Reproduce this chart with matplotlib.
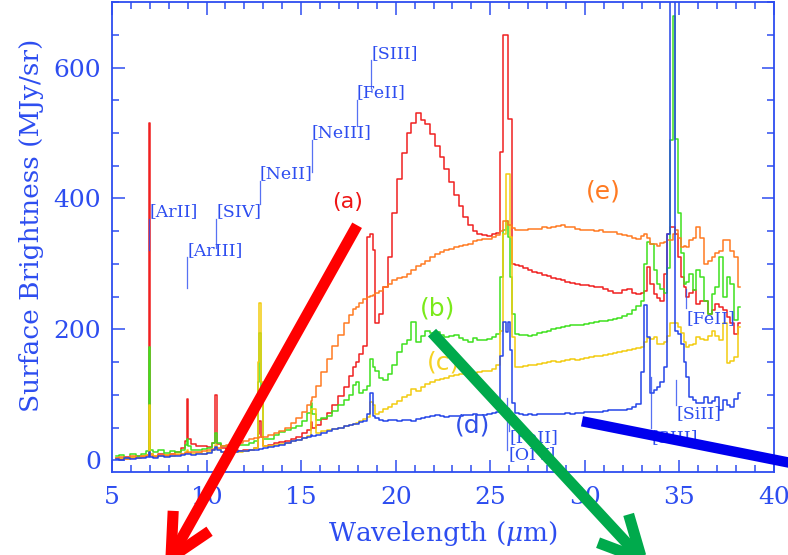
import numpy as np
from matplotlib import pyplot as plt
from matplotlib.patches import FancyArrowPatch
from matplotlib.ticker import MultipleLocator

plt.rcParams['font.family'] = 'DejaVu Serif'
plt.rcParams['mathtext.fontset'] = 'dejavuserif'

# wavelength grid (micron)
wavelength = [
    5.2, 5.5, 5.8, 6.1, 6.4, 6.7, 6.92, 6.98, 7.04, 7.3,
    7.6, 7.9, 8.2, 8.5, 8.75, 8.93, 8.99, 9.05, 9.3, 9.6,
    9.9, 10.2, 10.42, 10.51, 10.6, 10.9, 11.2, 11.5, 11.8, 12.1,
    12.4, 12.65, 12.75, 12.83, 12.91, 13.1, 13.4, 13.7, 14.0,
    14.3, 14.6, 14.9, 15.2, 15.45, 15.55, 15.65, 15.9, 16.2, 16.5,
    16.8, 17.1, 17.4, 17.65, 17.85, 17.95, 18.15, 18.4, 18.55, 18.7,
    18.85, 19.0, 19.2, 19.45, 19.7, 19.95, 20.2, 20.45, 20.7, 20.95,
    21.2, 21.45, 21.7, 21.95, 22.2, 22.45, 22.7, 22.95, 23.2, 23.45,
    23.7, 23.95, 24.2, 24.45, 24.7, 24.95, 25.2, 25.45, 25.62, 25.76,
    25.88, 25.98, 26.1, 26.25, 26.4, 26.6, 26.85, 27.1, 27.35, 27.6,
    27.85, 28.1, 28.35, 28.6, 28.85, 29.1, 29.35, 29.6, 29.85, 30.1,
    30.35, 30.6, 30.85, 31.1, 31.35, 31.6, 31.85, 32.1, 32.35, 32.6,
    32.85, 33.05, 33.22, 33.38, 33.55, 33.72, 33.9, 34.08, 34.25, 34.42,
    34.58, 34.72, 34.86, 35.0, 35.15, 35.3, 35.45, 35.6, 35.8, 36.0,
    36.2, 36.4, 36.6, 36.8, 37.0, 37.2, 37.4, 37.6, 37.8, 38.0,
    38.2]

# (a) red
spec_a = [
    4, 2, 5, 3, 6, 5, 8, 515, 10, 7,
    9, 8, 10, 13, 18, 30, 94, 32, 25, 22,
    21, 20, 26, 99, 25, 19, 17, 15, 14, 15,
    16, 18, 40, 60, 35, 22, 24, 26, 28,
    30, 33, 36, 41, 46, 58, 50, 54, 63, 72,
    84, 98, 112, 128, 142, 150, 162, 175, 341, 346,
    321, 209, 224, 265, 310, 377, 430, 470, 500, 515,
    531, 520, 514, 498, 480, 464, 445, 425, 405, 388,
    372, 360, 350, 346, 344, 343, 345, 347, 471, 649,
    649, 521, 521, 300, 298, 296, 294, 291, 288, 286,
    283, 281, 279, 277, 275, 273, 271, 269, 268, 267,
    266, 265, 264, 262, 258, 255, 255, 260, 262, 256,
    254, 256, 258, 295, 270, 254, 248, 244, 285, 346,
    356, 356, 346, 310, 280, 265, 249, 255, 260, 239,
    244, 244, 224, 230, 239, 234, 229, 219, 210, 193,
    209]

# (b) green
spec_b = [
    6, 8, 4, 9, 7, 10, 14, 173, 16, 12,
    15, 11, 14, 12, 16, 24, 32, 22, 16, 15,
    17, 19, 26, 42, 26, 22, 21, 22, 23, 24,
    26, 30, 120, 194, 90, 32, 33, 38, 43,
    46, 49, 53, 60, 72, 87, 70, 62, 64, 68,
    75, 84, 92, 100, 115, 120, 103, 108, 113, 155,
    142, 136, 125, 122, 132, 145, 165, 178, 184, 211,
    180, 190, 198, 194, 196, 192, 188, 190, 191, 186,
    183, 181, 186, 184, 183, 185, 188, 193, 280, 351,
    366, 341, 280, 224, 193, 192, 191, 190, 192, 194,
    196, 198, 200, 202, 204, 205, 206, 206, 207, 208,
    209, 211, 212, 213, 214, 216, 218, 220, 224, 230,
    236, 244, 300, 333, 331, 290, 270, 262, 255, 293,
    489, 679, 491, 377, 316, 270, 272, 285, 260, 290,
    280, 244, 224, 254, 265, 310, 249, 280, 270, 214,
    234]

# (c) yellow
spec_c = [
    3, 4, 2, 5, 3, 6, 8, 84, 9, 6,
    7, 8, 7, 9, 10, 12, 15, 12, 10, 11,
    10, 12, 16, 24, 17, 13, 12, 13, 13, 14,
    16, 19, 150, 240, 120, 22, 22, 23, 25,
    27, 29, 31, 34, 37, 79, 79, 42, 44, 46,
    48, 50, 52, 54, 55, 57, 60, 63, 66, 89,
    85, 71, 74, 78, 82, 86, 91, 96, 100, 109,
    106, 112, 116, 119, 122, 124, 126, 128, 130, 131,
    132, 133, 134, 135, 136, 137, 140, 145, 198, 346,
    438, 438, 341, 188, 143, 142, 144, 145, 146, 147,
    149, 150, 151, 150, 152, 153, 154, 153, 155, 156,
    158, 159, 160, 161, 162, 164, 165, 167, 168, 170,
    172, 173, 180, 186, 185, 188, 178, 178, 180, 190,
    209, 210, 209, 204, 195, 180, 173, 176, 178, 188,
    185, 183, 190, 198, 190, 183, 209, 148, 152, 158,
    204]

# (d) blue
spec_d = [
    2, 1, 3, 2, 4, 3, 5, 12, 5, 4,
    6, 5, 7, 6, 8, 9, 10, 9, 8, 9,
    10, 11, 15, 20, 15, 12, 12, 13, 14, 14,
    15, 16, 16, 17, 17, 18, 20, 21, 23,
    26, 29, 31, 34, 36, 38, 37, 39, 42, 45,
    47, 49, 52, 54, 55, 56, 58, 60, 71, 102,
    68, 64, 62, 60, 61, 62, 60, 61, 62, 60,
    63, 64, 66, 67, 69, 68, 66, 67, 68, 67,
    69, 69, 70, 69, 69, 71, 72, 74, 160, 211,
    196, 211, 168, 87, 72, 71, 69, 70, 69, 70,
    71, 71, 70, 71, 71, 72, 71, 72, 72, 73,
    73, 74, 74, 75, 76, 76, 76, 76, 78, 81,
    86, 135, 237, 188, 102, 107, 112, 120, 142, 346,
    760, 760, 198, 193, 178, 150, 127, 97, 92, 88,
    87, 97, 88, 90, 97, 76, 92, 85, 81, 94,
    102]

# (e) orange
spec_e = [
    3, 5, 2, 6, 3, 7, 6, 9, 7, 5,
    8, 6, 9, 8, 10, 11, 12, 11, 12, 13,
    14, 15, 17, 19, 18, 21, 23, 25, 27, 29,
    32, 34, 34, 35, 35, 36, 38, 41, 45,
    50, 57, 64, 73, 85, 90, 96, 113, 135, 155,
    174, 192, 209, 222, 231, 234, 240, 247, 249, 251,
    253, 255, 258, 264, 270, 276, 278, 280, 284, 291,
    296, 300, 305, 310, 315, 318, 321, 323, 326, 327,
    329, 330, 335, 337, 338, 338, 341, 344, 350, 366,
    366, 359, 359, 355, 351, 352, 351, 353, 354, 354,
    356, 355, 357, 358, 360, 357, 356, 354, 352, 352,
    351, 350, 351, 349, 348, 349, 346, 344, 343, 340,
    338, 342, 346, 340, 331, 330, 328, 332, 334, 336,
    336, 345, 351, 340, 326, 328, 326, 336, 340, 356,
    340, 300, 305, 310, 316, 320, 336, 336, 320, 310,
    265]

# line identifications
upper_ids = ['[ArII]', '[ArIII]', '[SIV]', '[NeII]', '[NeIII]', '[FeII]', '[SIII]']
upper_wl = [6.98, 8.99, 10.51, 12.81, 15.55, 17.93, 18.71]
upper_lo = [321, 263, 325, 392, 440, 511, 568]
upper_hi = [369, 310, 369, 427, 489, 550, 611]

lower_ids = ['[OIV]', '[FeII]', '[SIII]', '[SiII]', '[FeII]']
lower_wl = [25.89, 25.99, 33.48, 34.82, 35.35]
lower_hi = [95, 80, 127, 122, 262]
lower_lo = [15, 45, 50, 84, 232]
lower_text_y = [9, 35, 35, 72, 217]

series_labels = ['(a)', '(b)', '(c)', '(d)', '(e)']
label_x = [17.43, 22.19, 22.55, 24.09, 30.96]
label_y = [395, 232, 150, 53, 411]

axis_blue = '#2d4df0'
colors = {'a': '#f02020', 'b': '#3ee01e', 'c': '#f2cc10', 'd': '#2545e8', 'e': '#ff7a22'}
label_colors = ['#ee1515', '#7aea1a', '#f5d224', '#3050e8', '#ff7a22']

fig = plt.figure(figsize=(7.88, 5.55), dpi=100)
ax = fig.add_axes([0.1421, 0.1495, 0.8401, 0.8468])

ax.plot(wavelength, spec_a, drawstyle='steps-mid', color=colors['a'], lw=1.1)
ax.plot(wavelength, spec_b, drawstyle='steps-mid', color=colors['b'], lw=1.1)
ax.plot(wavelength, spec_c, drawstyle='steps-mid', color=colors['c'], lw=1.1)
ax.plot(wavelength, spec_e, drawstyle='steps-mid', color=colors['e'], lw=1.1)
ax.plot(wavelength, spec_d, drawstyle='steps-mid', color=colors['d'], lw=1.1)

for name, wl, lo, hi in zip(upper_ids, upper_wl, upper_lo, upper_hi):
    ax.plot([wl, wl], [lo, hi], color=axis_blue, lw=0.9, alpha=0.8)
    ax.text(wl, hi + 11, name, color=axis_blue, fontsize=12.5, ha='left', va='center')

for name, wl, lo, hi, ty in zip(lower_ids, lower_wl, lower_lo, lower_hi, lower_text_y):
    ax.plot([wl, wl], [lo, hi], color=axis_blue, lw=0.9, alpha=0.8)
    ax.text(wl + 0.05, ty, name, color=axis_blue, fontsize=12.5, ha='left', va='center')

for i, (lab, lx, ly) in enumerate(zip(series_labels, label_x, label_y)):
    fs = 16 if i == 0 else 18
    ax.text(lx, ly, lab, color=label_colors[i], fontsize=fs, ha='center', va='center',
            family='DejaVu Sans')

ax.set_xlim(5, 40)
ax.set_ylim(-18, 700)
ax.set_xticks([5, 10, 15, 20, 25, 30, 35, 40])
ax.set_yticks([0, 200, 400, 600])
ax.xaxis.set_minor_locator(MultipleLocator(1))
ax.yaxis.set_minor_locator(MultipleLocator(50))
ax.tick_params(which='both', direction='in', top=True, right=True,
               color=axis_blue, labelcolor=axis_blue, width=1.1, labelsize=18)
ax.tick_params(which='major', length=9)
ax.tick_params(which='minor', length=5)
ax.tick_params(axis='x', pad=10)
ax.tick_params(axis='y', pad=8)
for sp in ax.spines.values():
    sp.set_color(axis_blue)
    sp.set_linewidth(1.3)

ax.set_xlabel(r'Wavelength ($\mu$m)', color=axis_blue, fontsize=19)
ax.set_ylabel('Surface Brightness (MJy/sr)', color=axis_blue, fontsize=19)
ax.xaxis.set_label_coords(0.5, -0.1)
ax.yaxis.set_label_coords(-0.103, 0.525)

# overlay arrows
red_arrow = FancyArrowPatch((17.96, 359), (7.8, -165), arrowstyle='->,head_length=1.0,head_width=0.5',
                            mutation_scale=30, lw=8, color='#ff0000', transform=ax.transData,
                            clip_on=False, zorder=10, shrinkA=0, shrinkB=0, capstyle='butt')
green_arrow = FancyArrowPatch((21.92, 195), (33.45, -165), arrowstyle='->,head_length=1.0,head_width=0.5',
                              mutation_scale=30, lw=8, color='#00aa4c', transform=ax.transData,
                              clip_on=False, zorder=10, shrinkA=0, shrinkB=0, capstyle='butt')
ax.add_artist(red_arrow)
ax.add_artist(green_arrow)
ax.plot([29.85, 41.9], [59.5, -10], color='#0000ee', lw=7.5, solid_capstyle='butt',
        clip_on=False, zorder=10)

plt.savefig('out.png', dpi=100)
